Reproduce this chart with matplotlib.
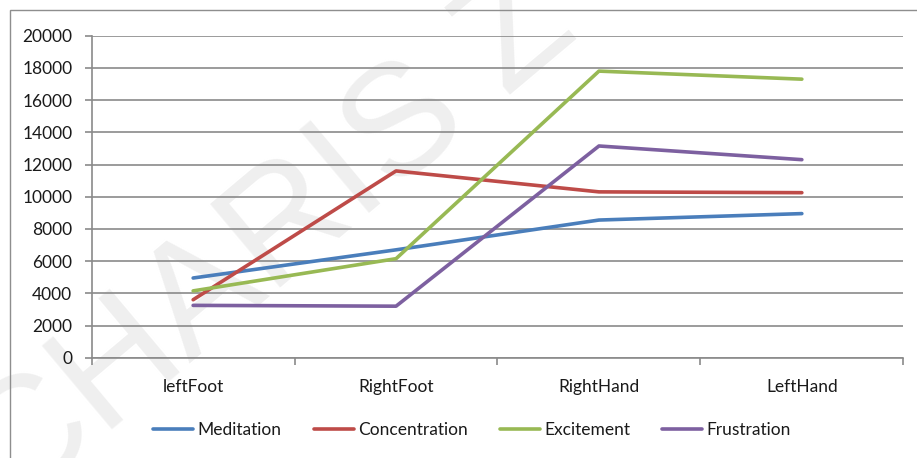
import matplotlib
matplotlib.use("Agg")
import matplotlib.pyplot as plt
from matplotlib.patches import Rectangle

plt.rcParams['font.family'] = ['Lato', 'DejaVu Sans']

categories = ["leftFoot", "RightFoot", "RightHand", "LeftHand"]
meditation = [4950, 6700, 8550, 8950]
concentration = [3600, 11600, 10300, 10250]
excitement = [4150, 6150, 17800, 17300]
frustration = [3250, 3200, 13150, 12300]

series = [
    ("Meditation", meditation, "#4A7EBB"),
    ("Concentration", concentration, "#BE4B48"),
    ("Excitement", excitement, "#98B954"),
    ("Frustration", frustration, "#7D60A0"),
]
yticks = list(range(0, 20001, 2000))

W, H = 917, 458
fig = plt.figure(figsize=(W / 100, H / 100), dpi=100)
fig.patch.set_facecolor("white")

# chart frame
fig.patches.append(Rectangle((9.5 / W, -0.2), 1.2, 1.2 - 10 / H,
                             transform=fig.transFigure, fill=False,
                             edgecolor="#8E8E8E", linewidth=1.0, zorder=0))

# faint watermark
fig.text(0.296, 0.472, "CHARIS Z", fontsize=114, color="#EFEFEF",
         rotation=40, ha="center", va="center", zorder=-1,
         family=["Liberation Sans", "DejaVu Sans"])

ax = fig.add_axes([91.7 / W, 1 - 357.7 / H, (903.3 - 91.7) / W, (357.7 - 35.7) / H])
ax.set_facecolor("none")

x = list(range(len(categories)))
handles = []
for name, vals, col in series:
    ln, = ax.plot(x, vals, color=col, lw=2.6, label=name,
                  solid_capstyle="round", solid_joinstyle="round", zorder=3)
    handles.append(ln)

grid_col = "#8A8A8A"
ax.set_ylim(0, 20000)
ax.set_xlim(-0.5, len(categories) - 0.5)
ax.set_yticks(yticks)
ax.set_yticklabels([str(v) for v in yticks])
ax.yaxis.grid(True, color=grid_col, lw=1.2)
ax.set_axisbelow(True)

# boundaries get tick marks, centers carry the labels
ax.set_xticks([i - 0.5 for i in range(len(categories) + 1)])
ax.set_xticklabels([])
ax.set_xticks(x, minor=True)
ax.set_xticklabels(categories, minor=True)
ax.tick_params(axis="x", which="major", length=5, width=1.2, color=grid_col)
ax.tick_params(axis="x", which="minor", length=0, pad=15, labelsize=12.5, labelcolor="#1a1a1a")
ax.tick_params(axis="y", length=5, width=1.2, color=grid_col, pad=9,
               labelsize=12.5, labelcolor="#1a1a1a")

for s in ("top", "right"):
    ax.spines[s].set_visible(False)
for s in ("left", "bottom"):
    ax.spines[s].set_color(grid_col)
    ax.spines[s].set_linewidth(1.2)

leg = fig.legend(handles=handles, loc="center", bbox_to_anchor=(472 / W, 1 - 430 / H),
                 ncol=4, frameon=False, fontsize=12.5, handlelength=2.3,
                 handletextpad=0.25, columnspacing=1.85)
for t in leg.get_texts():
    t.set_color("#1a1a1a")

fig.savefig("out.png", dpi=100, facecolor="white")
